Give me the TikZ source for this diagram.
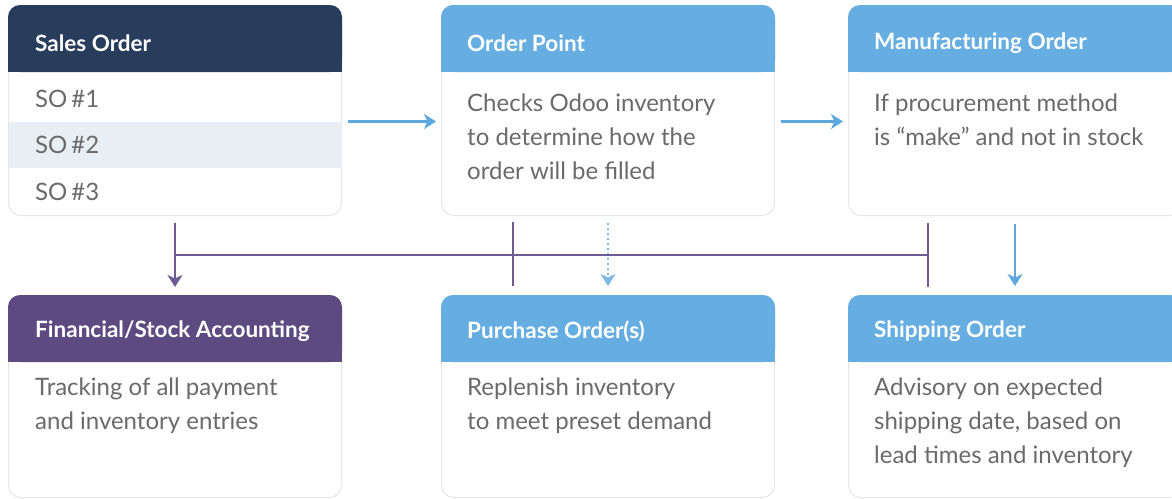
\documentclass[tikz,border=0pt]{standalone}
\usepackage{fontspec}
\setmainfont{Lato}
\usetikzlibrary{arrows.meta}

\definecolor{navy}{HTML}{283D5B}
\definecolor{skyblue}{HTML}{66AEE2}
\definecolor{plum}{HTML}{5C4A80}
\definecolor{busline}{HTML}{6D5B94}
\definecolor{arrowblue}{HTML}{5EA8E0}
\definecolor{bodygray}{HTML}{6A6A6A}
\definecolor{band}{HTML}{E9EEF2}
\definecolor{cardline}{HTML}{E4E7EA}

\begin{document}
\begin{tikzpicture} [x=1pt, y=-1pt,
  card/.style={draw=cardline, line width=1pt, fill=white, rounded corners=12pt,
    minimum width=333pt, minimum height=210pt, inner sep=0pt, anchor=north west},
  lowcard/.style={card, minimum height=202pt},
  title/.style={anchor=west, inner sep=0pt, text=white, font=\fontsize{22.5}{26}\selectfont\bfseries},
  body/.style={anchor=north west, inner sep=0pt, align=left, text=bodygray,
    font=\fontsize{24}{34}\selectfont},
  flow/.style={arrowblue, line width=2.2pt, -{Stealth[length=12pt, width=15pt, inset=3.5pt]}},
  acct/.style={busline, line width=2.4pt}]

\useasboundingbox (0,0) rectangle (1172,498);
\clip (0,0) rectangle (1172,498);

% cards
\node [card] (so) at (8,5) {};
\node [card] (op) at (441,5) {};
\node [card] (mo) at (848,5) {};
\node [lowcard] (fa) at (8,295) {};
\node [lowcard] (po) at (441,295) {};
\node [lowcard] (sh) at (848,295) {};

% grey band behind the second order
\fill [band] ([xshift=0.5pt, yshift=-117pt]so.north west) rectangle ([xshift=-0.5pt, yshift=-163pt]so.north east);

% headers
\foreach \c/\col in {so/navy, op/skyblue, mo/skyblue, fa/plum, po/skyblue, sh/skyblue} {
  \fill [\col, rounded corners=12pt] (\c.north west) rectangle ([yshift=-67pt]\c.north east);
  \fill [\col] ([yshift=-30pt]\c.north west) rectangle ([yshift=-67pt]\c.north east);
}

\node [title] (so-t) at ([xshift=27pt, yshift=-38pt]so.north west) {Sales Order};
\node [title] (op-t) at ([xshift=26pt, yshift=-38pt]op.north west) {Order Point};
\node [title] (mo-t) at ([xshift=26pt, yshift=-38pt]mo.north west) {Manufacturing Order};
\node [title] (fa-t) at ([xshift=27pt, yshift=-36pt]fa.north west) {Financial/Stock Accounting};
\node [title] (po-t) at ([xshift=26pt, yshift=-36pt]po.north west) {Purchase Order(s)};
\node [title] (sh-t) at ([xshift=26pt, yshift=-36pt]sh.north west) {Shipping Order};

% texts
\node [body, anchor=west] (so1) at ([xshift=27pt, yshift=-94pt]so.north west) {SO\,\#1};
\node [body, anchor=west] (so2) at ([xshift=27pt, yshift=-140pt]so.north west) {SO\,\#2};
\node [body, anchor=west] (so3) at ([xshift=27pt, yshift=-187pt]so.north west) {SO\,\#3};
\node [body] (op-b) at ([xshift=26pt, yshift=-89pt]op.north west)
  {Checks Odoo inventory\\to determine how the\\order will be filled};
\node [body] (mo-b) at ([xshift=26pt, yshift=-89pt]mo.north west)
  {If procurement method\\is “make” and not in stock};
\node [body] (fa-b) at ([xshift=27pt, yshift=-83pt]fa.north west)
  {Tracking of all payment\\and inventory entries};
\node [body] (po-b) at ([xshift=26pt, yshift=-83pt]po.north west)
  {Replenish inventory\\to meet preset demand};
\node [body] (sh-b) at ([xshift=26pt, yshift=-83pt]sh.north west)
  {Advisory on expected\\shipping date, based on\\lead times and inventory};

% order flow
\draw [flow] ([xshift=6pt, yshift=-11pt]so.east) -- ([xshift=-5pt, yshift=-11pt]op.east -| op.west);
\draw [flow] ([xshift=6pt, yshift=-11pt]op.east) -- ([xshift=-5pt, yshift=-11pt]mo.east -| mo.west);
\draw [flow, dash pattern=on 2pt off 3pt, arrowblue!80] ([yshift=-7pt]op.south) -- ([yshift=9pt]po.north);
\draw [flow] ([yshift=-8pt]mo.south) -- ([yshift=9pt]sh.north);

% accounting bus
\coordinate (bus-r) at (928,255);
\coordinate (bus-l) at (so.south |- bus-r);
\coordinate (op-top) at (513,222);
\coordinate (op-bot) at (513,286);
\coordinate (mo-top) at (928,223);
\coordinate (mo-bot) at (928,287);

\draw [acct] (bus-l) -- (bus-r);
\draw [acct] (op-top) -- (op-bot);
\draw [acct] (mo-top) -- (mo-bot);
\draw [acct, -{Stealth[length=12pt, width=15pt, inset=3.5pt]}] ([yshift=-7pt]so.south) -- ([yshift=8pt]fa.north);
\end{tikzpicture}
\end{document}
